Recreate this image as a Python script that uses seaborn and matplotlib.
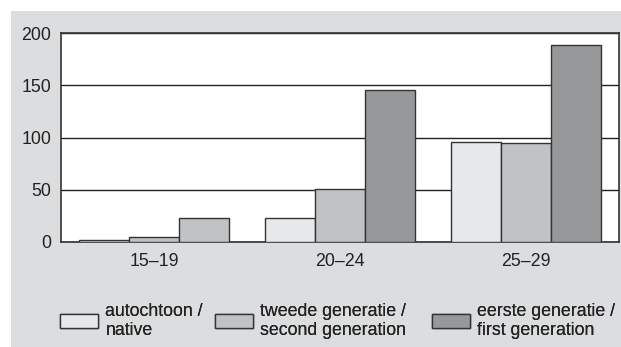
import matplotlib
matplotlib.use("Agg")
import matplotlib.pyplot as plt
import seaborn as sns
import pandas as pd
from matplotlib.patches import Rectangle

# ---- data ----
age_groups = ["15\u201319", "20\u201324", "25\u201329"]
series_names = ["autochtoon /\nnative",
                "tweede generatie /\nsecond generation",
                "eerste generatie /\nfirst generation"]
native = [2.2, 22.7, 96.0]
second_gen = [4.8, 50.5, 94.7]
first_gen = [22.7, 145.5, 188.5]
y_ticks = [0, 50, 100, 150, 200]

rows = []
for name, vals in zip(series_names, [native, second_gen, first_gen]):
    for g, v in zip(age_groups, vals):
        rows.append({"age": g, "group": name, "value": v})
df = pd.DataFrame(rows)

FS = 12.8
sns.set_style("white")
plt.rcParams["font.family"] = ["Liberation Sans", "DejaVu Sans"]
plt.rcParams["font.size"] = FS

W, H = 621, 347
fig = plt.figure(figsize=(W / 100, H / 100), dpi=100, facecolor="white")
# grey panel behind the chart
fig.patches.append(Rectangle((11 / W, 0), 1 - 11 / W, 1 - 11 / H,
                             transform=fig.transFigure, facecolor="#dcdddf",
                             edgecolor="none", zorder=-10))

ax = fig.add_axes([61 / W, 1 - 242 / H, (619 - 61) / W, (242 - 33) / H])
ax.set_facecolor("white")

colors = ["#e7e8ea", "#c1c2c4", "#97989a"]
sns.barplot(data=df, x="age", y="value", hue="group", palette=colors,
            width=0.81, gap=0, edgecolor="#333333", linewidth=1.0,
            ax=ax, legend=False, zorder=3)

# in the original the 15-19 "first generation" bar is drawn in the mid grey
bars = [p for p in ax.patches]
if len(bars) >= 9:
    bars[6].set_facecolor(colors[1])

ax.set_xlim(-0.5, 2.5)
ax.set_ylim(0, 200)
ax.set_yticks(y_ticks)
ax.yaxis.grid(True, color="#222222", linewidth=1.0, zorder=0)
ax.set_axisbelow(True)
ax.set_xlabel("")
ax.set_ylabel("")
ax.tick_params(axis="both", length=0, labelcolor="#222222", labelsize=FS)
ax.tick_params(axis="x", pad=8)
ax.tick_params(axis="y", pad=7)
for s in ax.spines.values():
    s.set_visible(True)
    s.set_color("#333333")
    s.set_linewidth(1.2)

leg_x = [60, 215, 432]
for c, name, lx in zip(colors, series_names, leg_x):
    h = Rectangle((0, 0), 1, 1, facecolor=c, edgecolor="#333333", linewidth=1.0)
    leg = fig.legend([h], [name], loc="center left",
                     bbox_to_anchor=(lx / W, 1 - 321 / H),
                     frameon=False, handlelength=38 / 17.8, handleheight=0.82,
                     handletextpad=0.42, borderpad=0, borderaxespad=0,
                     fontsize=FS)
    for t in leg.get_texts():
        t.set_color("#222222")
        t.set_linespacing(1.2)
    fig.add_artist(leg)

fig.savefig("out.png", dpi=100, facecolor="white")
